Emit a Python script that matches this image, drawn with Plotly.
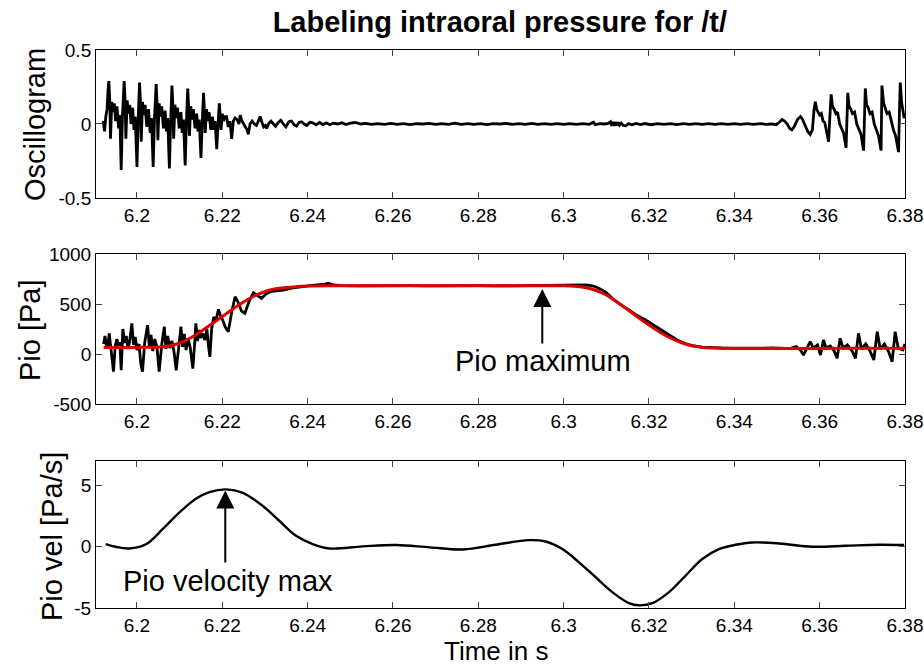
import plotly.graph_objects as go

# ---- data ----
x_ticks = [6.2, 6.22, 6.24, 6.26, 6.28, 6.3, 6.32, 6.34, 6.36, 6.38]
x_tick_text = ['6.2', '6.22', '6.24', '6.26', '6.28', '6.3', '6.32', '6.34', '6.36', '6.38']
osc_ticks = [-0.5, 0, 0.5]
osc_tick_text = ['-0.5', '0', '0.5']
pio_ticks = [-500, 0, 500, 1000]
pio_tick_text = ['-500', '0', '500', '1000']
vel_ticks = [-5, 0, 5]
vel_tick_text = ['-5', '0', '5']

# oscillogram (time in s, amplitude)
osc_pts = [
    (6.1921, 0.02), (6.1924, -0.05), (6.1927, 0.05), (6.1930, 0.10), (6.1932, 0.22), (6.1934, 0.29),
    (6.1936, 0.18), (6.1938, -0.10), (6.1941, 0.15), (6.1944, 0.08), (6.1947, 0.14), (6.1950, 0.02),
    (6.1953, 0.12), (6.1957, -0.03), (6.1960, 0.06), (6.1963, -0.31), (6.1966, 0.05),
    (6.1968, 0.22), (6.1970, 0.29), (6.1972, 0.17), (6.1974, -0.10), (6.1977, 0.16), (6.1980, 0.07),
    (6.1983, 0.13), (6.1986, 0.00), (6.1990, 0.11), (6.1993, -0.04), (6.1996, 0.05), (6.2000, -0.29), (6.2003, 0.04),
    (6.2004, 0.20), (6.2006, 0.28), (6.2008, 0.16), (6.2010, -0.12), (6.2013, 0.15), (6.2016, 0.06),
    (6.2019, 0.13), (6.2023, -0.02), (6.2027, 0.10), (6.2031, -0.06), (6.2034, 0.04), (6.2038, -0.29), (6.2041, 0.03),
    (6.2043, 0.19), (6.2045, 0.27), (6.2047, 0.15), (6.2049, -0.11), (6.2052, 0.14), (6.2055, 0.05),
    (6.2058, 0.12), (6.2062, -0.03), (6.2066, 0.09), (6.2069, -0.05), (6.2072, 0.04), (6.2076, -0.30), (6.2079, 0.02),
    (6.2080, 0.18), (6.2082, 0.26), (6.2084, 0.14), (6.2086, -0.10), (6.2089, 0.13), (6.2092, 0.04),
    (6.2095, 0.11), (6.2099, -0.03), (6.2103, 0.08), (6.2106, -0.06), (6.2109, 0.03), (6.2113, -0.28), (6.2116, 0.02),
    (6.2117, 0.16), (6.2119, 0.24), (6.2121, 0.12), (6.2123, -0.08), (6.2126, 0.12), (6.2129, 0.03),
    (6.2132, 0.10), (6.2136, -0.03), (6.2140, 0.07), (6.2143, -0.05), (6.2146, 0.03), (6.2150, -0.23), (6.2153, 0.01),
    (6.2154, 0.14), (6.2156, 0.21), (6.2158, 0.10), (6.2160, -0.06), (6.2163, 0.10), (6.2166, 0.02),
    (6.2169, 0.08), (6.2173, -0.04), (6.2177, 0.05), (6.2180, -0.04), (6.2183, 0.02), (6.2187, -0.17), (6.2190, 0.00),
    (6.2191, 0.09), (6.2193, 0.14), (6.2195, 0.06), (6.2197, -0.04), (6.2200, 0.07), (6.2203, 0.02),
    (6.2206, 0.05), (6.2210, 0.05), (6.2214, -0.02), (6.2218, 0.02), (6.2222, -0.10), (6.2226, 0.02),
    (6.2230, 0.04), (6.2235, 0.03), (6.2239, 0.00), (6.2242, 0.06), (6.2246, 0.02), (6.2250, 0.00),
    (6.2254, -0.02), (6.2258, -0.04), (6.2261, -0.07), (6.2265, 0.00), (6.2270, 0.02), (6.2275, 0.00),
    (6.2280, -0.01), (6.2285, 0.03), (6.2289, 0.05), (6.2293, 0.01), (6.2297, -0.02), (6.2301, -0.01),
    (6.2304, -0.03), (6.2308, 0.00), (6.2314, 0.02), (6.2320, 0.00), (6.2325, -0.015), (6.2331, 0.01),
    (6.2337, 0.025), (6.2343, 0.0), (6.2349, -0.02), (6.2356, 0.015), (6.2362, 0.02), (6.2368, -0.005),
    (6.2374, -0.015), (6.2380, 0.01), (6.2386, 0.015), (6.2392, 0.0), (6.2398, -0.01), (6.2405, 0.012),
    (6.2412, 0.008), (6.2420, -0.006), (6.2428, 0.01), (6.2436, -0.004), (6.2444, 0.008), (6.2452, -0.005),
    (6.2460, 0.006), (6.2470, 0.0), (6.2480, 0.008), (6.2490, -0.004), (6.2500, 0.006), (6.2512, 0.010),
    (6.2524, 0.0), (6.2536, 0.004), (6.2550, -0.003), (6.2565, 0.003), (6.2580, -0.002), (6.2595, 0.004),
    (6.2610, -0.003), (6.2625, 0.002), (6.2640, -0.004), (6.2655, 0.003), (6.2670, 0.000), (6.2685, 0.004),
    (6.2700, -0.003), (6.2715, 0.002), (6.2730, -0.003), (6.2745, 0.005), (6.2760, -0.002), (6.2775, 0.003),
    (6.2790, -0.003), (6.2805, 0.002), (6.2820, -0.004), (6.2835, 0.003), (6.2850, 0.000), (6.2865, 0.004),
    (6.2880, -0.003), (6.2895, 0.002), (6.2910, -0.002), (6.2925, 0.004), (6.2940, -0.003), (6.2955, 0.003),
    (6.2970, -0.002), (6.2985, 0.002), (6.3000, -0.003), (6.3015, 0.003), (6.3030, -0.002), (6.3045, 0.002),
    (6.3060, -0.002), (6.3070, 0.012), (6.3074, -0.004), (6.3085, 0.003), (6.3095, 0.000), (6.3105, 0.004),
    (6.3110, 0.015), (6.3113, -0.012), (6.3116, 0.014), (6.3119, -0.012), (6.3122, 0.013), (6.3125, -0.010),
    (6.3128, 0.012), (6.3131, -0.008), (6.3135, 0.006), (6.3140, -0.010), (6.3146, -0.012), (6.3152, 0.002),
    (6.3160, -0.006), (6.3170, 0.004), (6.3180, -0.004), (6.3190, 0.003), (6.3205, -0.005), (6.3220, 0.003),
    (6.3235, -0.003), (6.3250, 0.002), (6.3265, -0.004), (6.3280, 0.003), (6.3295, -0.002), (6.3310, 0.003),
    (6.3325, -0.003), (6.3340, 0.002), (6.3355, -0.003), (6.3370, 0.003), (6.3385, -0.002), (6.3400, 0.002),
    (6.3415, -0.003), (6.3430, 0.002), (6.3445, -0.002), (6.3460, 0.003), (6.3475, -0.002), (6.3488, 0.000),
    (6.3498, -0.005), (6.3505, 0.01), (6.3512, 0.03), (6.3518, 0.02), (6.3524, 0.0), (6.3530, -0.03),
    (6.3535, -0.04), (6.3540, -0.02), (6.3548, 0.03), (6.3555, 0.05), (6.3560, 0.03), (6.3566, -0.01),
    (6.3572, -0.05), (6.3578, -0.07), (6.3583, -0.04), (6.3587, 0.10), (6.3590, 0.15), (6.3593, 0.10),
    (6.3596, 0.08), (6.3600, 0.06), (6.3604, 0.07), (6.3608, 0.02), (6.3612, 0.01), (6.3616, -0.05),
    (6.3621, -0.12), (6.3624, 0.05),
    (6.3627, 0.20), (6.3630, 0.12), (6.3634, 0.10), (6.3638, 0.07), (6.3642, 0.08), (6.3647, 0.00),
    (6.3652, -0.03), (6.3656, -0.06), (6.3662, -0.16), (6.3664, 0.05),
    (6.3666, 0.21), (6.3669, 0.12), (6.3673, 0.10), (6.3677, 0.07), (6.3682, 0.08), (6.3687, 0.00),
    (6.3692, -0.04), (6.3697, -0.07), (6.3703, -0.18), (6.3705, 0.06),
    (6.3707, 0.24), (6.3710, 0.13), (6.3714, 0.11), (6.3718, 0.07), (6.3723, 0.08), (6.3728, 0.00),
    (6.3733, -0.04), (6.3738, -0.08), (6.3744, -0.18), (6.3745, 0.07),
    (6.3746, 0.26), (6.3750, 0.14), (6.3754, 0.11), (6.3758, 0.07), (6.3763, 0.08), (6.3768, 0.01),
    (6.3773, -0.04), (6.3778, -0.08), (6.3785, -0.19), (6.3787, 0.08),
    (6.3789, 0.28), (6.3792, 0.15), (6.3795, 0.10), (6.3798, 0.04), (6.3800, 0.06),
]

# intraoral pressure, measured (Pa)
pio_pts = [
    (6.1922, 100), (6.1925, 180), (6.1928, 90), (6.1931, 60), (6.1935, 207), (6.1938, 90), (6.1941, 30),
    (6.1945, -177), (6.1949, 80), (6.1953, 150), (6.1957, 70), (6.1960, 120), (6.1963, -163), (6.1967, 250),
    (6.1971, 110), (6.1975, 180), (6.1979, 50), (6.1983, 130), (6.1988, 307), (6.1992, 90), (6.1996, 170),
    (6.2000, 40), (6.2005, 100), (6.2009, -100), (6.2013, -177), (6.2018, 110), (6.2025, 290), (6.2029, 70),
    (6.2033, 190), (6.2037, 30), (6.2042, 150), (6.2047, 60), (6.2052, -177), (6.2058, 90), (6.2064, 273),
    (6.2068, 50), (6.2072, 180), (6.2077, 60), (6.2082, 130), (6.2087, 20), (6.2092, -163), (6.2098, 110),
    (6.2103, 273), (6.2107, 70), (6.2111, 200), (6.2115, 40), (6.2120, 150), (6.2125, 60), (6.2131, -147),
    (6.2135, 90), (6.2138, 307), (6.2142, 130), (6.2146, 240), (6.2150, 160), (6.2154, 207), (6.2159, 140),
    (6.2164, 250), (6.2167, 100), (6.2171, -27), (6.2175, 250), (6.2180, 370), (6.2185, 330), (6.2191, 447),
    (6.2196, 380), (6.2201, 340), (6.2207, 270), (6.2214, 223), (6.2222, 420), (6.2230, 573), (6.2237, 520),
    (6.2245, 430), (6.2253, 407), (6.2263, 530), (6.2273, 613), (6.2283, 585), (6.2292, 557), (6.2302, 600),
    (6.2312, 623), (6.2327, 632), (6.2343, 640), (6.2362, 660), (6.2382, 673), (6.2410, 686), (6.2435, 695),
    (6.2449, 707), (6.2460, 690), (6.2480, 683), (6.2520, 682), (6.2560, 684), (6.2600, 680), (6.2640, 683),
    (6.2680, 681), (6.2720, 684), (6.2760, 680), (6.2800, 683), (6.2840, 681), (6.2880, 684), (6.2920, 686),
    (6.2960, 688), (6.3000, 690), (6.3030, 692), (6.3050, 690), (6.3062, 686), (6.3075, 673), (6.3090, 640),
    (6.3100, 615), (6.3114, 557), (6.3130, 505), (6.3140, 475), (6.3153, 440), (6.3170, 390), (6.3192, 340),
    (6.3210, 290), (6.3231, 240), (6.3250, 185), (6.3266, 140), (6.3285, 105), (6.3305, 80), (6.3325, 68),
    (6.3344, 63), (6.3370, 60), (6.3400, 58), (6.3430, 60), (6.3460, 57), (6.3490, 60), (6.3520, 55),
    (6.3530, 55), (6.3545, 75), (6.3555, 40), (6.3562, -10), (6.3570, 60), (6.3578, 123), (6.3585, 60),
    (6.3595, 90), (6.3602, -10), (6.3609, 140), (6.3615, 60), (6.3625, 80), (6.3634, 30), (6.3641, -43),
    (6.3648, 157), (6.3655, 60), (6.3665, 90), (6.3676, 30), (6.3684, -43), (6.3691, 207), (6.3698, 50),
    (6.3708, 100), (6.3718, 30), (6.3727, -60), (6.3735, 223), (6.3742, 50), (6.3752, 100), (6.3762, 20),
    (6.3770, -77), (6.3777, 223), (6.3784, 60), (6.3795, 40), (6.3800, 100),
]

# fitted pressure curve (Pa)
pio_fit_pts = [
    (6.1922, 65), (6.1950, 65), (6.2000, 66), (6.2050, 70), (6.2075, 80), (6.2100, 110), (6.2125, 160),
    (6.2150, 225), (6.2175, 300), (6.2200, 375), (6.2225, 450), (6.2250, 520), (6.2275, 580), (6.2300, 625),
    (6.2325, 652), (6.2350, 666), (6.2375, 674), (6.2400, 679), (6.2450, 682), (6.2600, 682), (6.2800, 682),
    (6.3000, 682), (6.3025, 678), (6.3050, 665), (6.3075, 638), (6.3100, 590), (6.3125, 520), (6.3150, 445),
    (6.3175, 365), (6.3200, 290), (6.3225, 220), (6.3250, 160), (6.3275, 115), (6.3300, 82), (6.3325, 66),
    (6.3350, 60), (6.3400, 56), (6.3450, 55), (6.3500, 55), (6.3600, 56), (6.3700, 57), (6.3800, 57),
]

# pressure velocity (Pa/s)
vel_pts = [
    (6.1927, 0.22), (6.1950, 0.00), (6.1982, -0.14), (6.2021, 0.20), (6.2060, 1.43), (6.2099, 2.78),
    (6.2138, 3.92), (6.2170, 4.46), (6.2209, 4.68), (6.2248, 4.40), (6.2295, 3.33), (6.2334, 2.10),
    (6.2373, 0.89), (6.2412, 0.22), (6.2451, -0.14), (6.2529, 0.03), (6.2607, 0.14), (6.2686, -0.05),
    (6.2764, -0.22), (6.2840, 0.16), (6.2919, 0.54), (6.2958, 0.43), (6.2997, -0.19), (6.3036, -1.27),
    (6.3075, -2.49), (6.3114, -3.70), (6.3153, -4.60), (6.3176, -4.78), (6.3208, -4.60), (6.3247, -3.70),
    (6.3286, -2.35), (6.3325, -1.00), (6.3364, -0.19), (6.3403, 0.16), (6.3442, 0.35), (6.3505, 0.27),
    (6.3583, 0.00), (6.3661, 0.08), (6.3739, 0.16), (6.3798, 0.14),
]

FONT = 'Liberation Sans, Arial, sans-serif'


def split(pts):
    return [p[0] for p in pts], [p[1] for p in pts]


fig = go.Figure()

t, v = split(osc_pts)
fig.add_trace(go.Scatter(x=t, y=v, mode='lines', line=dict(color='black', width=2.8),
                         xaxis='x', yaxis='y'))
t, v = split(pio_pts)
fig.add_trace(go.Scatter(x=t, y=v, mode='lines', line=dict(color='black', width=2.8),
                         xaxis='x2', yaxis='y2'))
t, v = split(pio_fit_pts)
fig.add_trace(go.Scatter(x=t, y=v, mode='lines', line=dict(color='#e00000', width=3, shape='spline'),
                         xaxis='x2', yaxis='y2'))
t, v = split(vel_pts)
fig.add_trace(go.Scatter(x=t, y=v, mode='lines', line=dict(color='black', width=2.4, shape='spline'),
                         xaxis='x3', yaxis='y3'))


def xax(anchor):
    return dict(domain=[0.1039, 0.9794], range=[6.1904, 6.38], anchor=anchor, automargin=False,
                tickvals=x_ticks, ticktext=x_tick_text, ticks='inside', ticklen=6,
                showline=True, mirror='ticks', linecolor='black', linewidth=1,
                showgrid=False, zeroline=False, tickfont=dict(size=19, color='black'))


def yax(anchor, dom, rng, vals, labels):
    return dict(domain=dom, range=rng, anchor=anchor, automargin=False,
                tickvals=vals, ticktext=labels, ticks='inside', ticklen=6,
                showline=True, mirror='ticks', linecolor='black', linewidth=1,
                showgrid=False, zeroline=False, tickfont=dict(size=19, color='black'))


fig.update_layout(
    width=924, height=665,
    margin=dict(l=0, r=0, t=0, b=0),
    paper_bgcolor='white', plot_bgcolor='white',
    showlegend=False,
    font=dict(family=FONT, color='black'),
    title=dict(text='<b>Labeling intraoral pressure for /t/</b>', x=0.541, xanchor='center',
               y=0.967, yanchor='middle', font=dict(size=29, color='black')),
    xaxis=xax('y'),
    yaxis=yax('x', [0.7023, 0.9248], [-0.5, 0.5], osc_ticks, osc_tick_text),
    xaxis2=xax('y2'),
    yaxis2=yax('x2', [0.3925, 0.6180], [-500, 1000], pio_ticks, pio_tick_text),
    xaxis3=xax('y3'),
    yaxis3=yax('x3', [0.0857, 0.3068], [-5, 7], vel_ticks, vel_tick_text),
)

anns = [
    # y axis titles
    dict(text='Oscillogram', x=35 / 924, y=1 - 125 / 665, textangle=-90, font_size=29),
    dict(text='Pio [Pa]', x=30 / 924, y=1 - 330 / 665, textangle=-90, font_size=29),
    dict(text='Pio vel [Pa/s]', x=52 / 924, y=1 - 537 / 665, textangle=-90, font_size=29),
    dict(text='Time in s', x=497 / 924, y=1 - 651 / 665, font_size=26),
]
for a in anns:
    a.update(xref='paper', yref='paper', showarrow=False, xanchor='center', yanchor='middle')
    a['font'] = dict(size=a.pop('font_size'), color='black', family=FONT)
    fig.add_annotation(**a)

# labels with arrows
fig.add_annotation(x=6.2950, y=650, ax=6.2950, ay=90, xref='x2', yref='y2', axref='x2', ayref='y2',
                   text='', showarrow=True, arrowhead=2, arrowsize=1.8, arrowwidth=2, arrowcolor='black')
fig.add_annotation(x=6.2951, y=-70, xref='x2', yref='y2', text='Pio maximum', showarrow=False,
                   font=dict(size=29, color='black', family=FONT))
fig.add_annotation(x=6.2207, y=4.6, ax=6.2207, ay=-1.4, xref='x3', yref='y3', axref='x3', ayref='y3',
                   text='', showarrow=True, arrowhead=2, arrowsize=1.8, arrowwidth=2, arrowcolor='black')
fig.add_annotation(x=6.2214, y=-2.76, xref='x3', yref='y3', text='Pio velocity max', showarrow=False,
                   font=dict(size=29, color='black', family=FONT))

# the page body has a default 8px margin; drop it so the figure fills the window
fig.write_html('out.html', config={'displayModeBar': False},
               post_script="document.body.style.margin='0';")
